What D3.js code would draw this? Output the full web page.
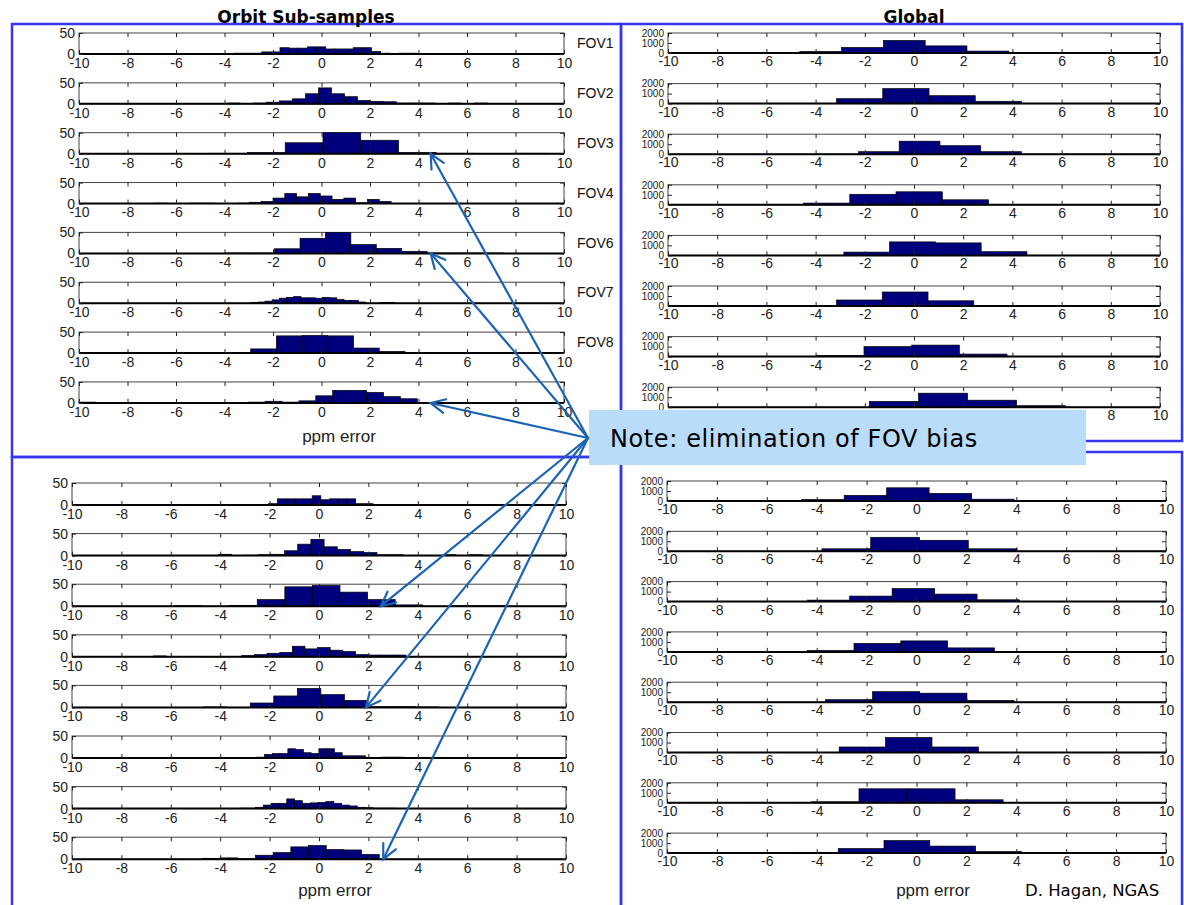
<!DOCTYPE html>
<html>
<head>
<meta charset="utf-8">
<script src="https://cdn.jsdelivr.net/npm/d3@7"></script>
<style>
    body { margin: 0; background: #fff; }
    svg { display: block; }
</style>
</head>
<body>
<script>
// ---- data ----
const xTicks = [-10, -8, -6, -4, -2, 0, 2, 4, 6, 8, 10]
const orbitYTicks = [0, 50]
const globalYTicks = [0, 1000, 2000]
const fovLabels = ["FOV1", "FOV2", "FOV3", "FOV4", "FOV6", "FOV7", "FOV8"]

// each histogram: [min, max] of the data and equal-width bin counts
const orbitTopRange = [[-3.6, 3.95], [-3.87, 6.84], [-4.61, 9.4], [-6.87, 2.87], [-4.03, 7.5], [-2.92, 3.0], [-2.92, 3.44], [-10, 3.95]]
const orbitTopCounts = [
    [2, 2, 2, 5, 5, 15, 14, 14, 17, 17, 12, 12, 12, 15, 15, 6, 2, 0, 2, 2],
    [2, 0, 2, 4, 7, 12, 24, 38, 24, 17, 8, 6, 5, 2, 2, 2, 0, 2, 0, 2],
    [1, 3, 26, 55, 32, 3, 1, 0, 1],
    [1, 0, 0, 1, 1, 0, 0, 1, 3, 5, 13, 24, 16, 24, 18, 10, 13, 2, 10, 5],
    [1, 1, 11, 36, 52, 21, 12, 5, 1, 1, 1],
    [2, 3, 5, 8, 12, 14, 16, 13, 13, 12, 14, 13, 9, 7, 7, 3, 0, 0, 2, 2],
    [10, 41, 42, 41, 12, 4],
    [2, 0, 0, 0, 0, 0, 0, 0, 0, 1, 2, 4, 2, 5, 17, 30, 30, 25, 15, 10]
]

const orbitBottomRange = [[-3.45, 3.6], [-4.07, 6.62], [-5.85, 7.55], [-6.7, 3.52], [-4.69, 4.84], [-2.83, 3.45], [-3.21, 3.14], [-4.72, 2.44]]
const orbitBottomCounts = [
    [1, 1, 0, 1, 3, 14, 14, 14, 14, 21, 12, 14, 14, 14, 3, 3, 1, 1, 0, 1],
    [3, 0, 1, 2, 3, 11, 26, 37, 20, 14, 9, 7, 2, 2, 0, 0, 0, 2, 0, 2],
    [1, 0, 2, 15, 44, 47, 32, 15, 3, 0, 1, 1],
    [2, 0, 0, 0, 1, 1, 0, 3, 5, 8, 10, 24, 18, 21, 15, 12, 5, 4, 4, 4],
    [1, 0, 10, 26, 43, 29, 16, 2, 2, 1],
    [1, 2, 8, 10, 10, 21, 19, 12, 10, 21, 21, 12, 5, 5, 5, 0, 0, 2, 2, 2],
    [1, 1, 3, 8, 12, 12, 22, 18, 12, 13, 14, 16, 12, 8, 6, 3, 2, 1, 1, 1],
    [2, 3, 1, 9, 15, 28, 31, 22, 21, 11]
]

const globalTopRange = [[-4.64, 3.85], [-3.15, 4.37], [-2.26, 4.37], [-4.49, 3.03], [-2.85, 4.59], [-3.15, 2.43], [-3.97, 3.78], [-1.81, 6.16]]
const globalTopCounts = [
    [160, 550, 1250, 710, 190],
    [490, 1500, 790, 230],
    [250, 1300, 850, 250],
    [170, 1050, 1300, 500],
    [330, 1350, 1250, 370],
    [600, 1400, 520],
    [120, 1000, 1150, 250],
    [580, 1400, 700, 150]
]

const globalBottomRange = [[-4.6, 3.91], [-3.79, 4.03], [-4.38, 4.13], [-4.38, 3.12], [-3.65, 3.91], [-3.1, 2.48], [-4.23, 3.47], [-4.97, 4.2]]
const globalBottomCounts = [
    [150, 560, 1320, 760, 180],
    [250, 1400, 1100, 250],
    [150, 550, 1300, 750, 180],
    [150, 850, 1100, 400],
    [250, 1050, 900, 180],
    [550, 1500, 550],
    [100, 1400, 1400, 300],
    [80, 450, 1250, 700, 150]
]

// arrow targets in ppm / row of the orbit panels
const arrowTargets = [
    {panel: 0, row: 2, x: 4.5}, {panel: 0, row: 4, x: 4.5}, {panel: 0, row: 7, x: 4.5},
    {panel: 1, row: 2, x: 2.5}, {panel: 1, row: 4, x: 1.9}, {panel: 1, row: 7, x: 2.6}
]

// ---- layout ----
const BLUE = "#3535f2",
    ARROW = "#1c63b2",
    BAR = "#00007c",
    TICK_FONT = "'Liberation Sans', Arial, sans-serif",
    SLIDE_FONT = "'DejaVu Sans', Verdana, sans-serif"

const svg = d3.select("body").append("svg")
    .attr("width", 1184)
    .attr("height", 905)

const panels = [
    {range: orbitTopRange, counts: orbitTopCounts, yTicks: orbitYTicks, x0: 79, x1: 564, bottom: 54, step: 49.85, h: 21, pad: 4, yFont: 14, xlabel: [339, 442]},
    {range: orbitBottomRange, counts: orbitBottomCounts, yTicks: orbitYTicks, x0: 72, x1: 566, bottom: 505, step: 50.6, h: 22, pad: 4, yFont: 14, xlabel: [335, 896]},
    {range: globalTopRange, counts: globalTopCounts, yTicks: globalYTicks, x0: 668, x1: 1160, bottom: 53, step: 50.6, h: 20, pad: 3, yFont: 10},
    {range: globalBottomRange, counts: globalBottomCounts, yTicks: globalYTicks, x0: 667, x1: 1166, bottom: 501, step: 50.3, h: 20, pad: 3, yFont: 10, xlabel: [933, 896]}
]

// panel frames
const frames = [
    [12, 24, 609, 433], [621, 24, 561, 417], [12, 457, 609, 460], [621, 452, 561, 460]
]
svg.selectAll("rect.frame")
    .data(frames)
    .join("rect")
    .attr("class", "frame")
    .attr("x", d => d[0]).attr("y", d => d[1])
    .attr("width", d => d[2]).attr("height", d => d[3])
    .style("fill", "none")
    .style("stroke", BLUE)
    .style("stroke-width", 2.5)

svg.append("text")
    .text("Orbit Sub-samples")
    .attr("x", 306).attr("y", 23)
    .attr("text-anchor", "middle")
    .style("font-family", SLIDE_FONT)
    .style("font-weight", "bold")
    .style("font-size", "17px")

svg.append("text")
    .text("Global")
    .attr("x", 914).attr("y", 23)
    .attr("text-anchor", "middle")
    .style("font-family", SLIDE_FONT)
    .style("font-weight", "bold")
    .style("font-size", "17px")

function styleAxis(g, size, family) {
    g.attr("color", "#222")
        .attr("font-size", size)
        .attr("font-family", family || TICK_FONT)
    g.select(".domain").remove()
}

function drawHist(p, i) {
    const bottom = p.bottom + i * p.step,
        top = bottom - p.h,
        yMax = p.yTicks[p.yTicks.length - 1],
        x = d3.scaleLinear().domain([-10, 10]).range([p.x0, p.x1]),
        y = d3.scaleLinear().domain([0, yMax]).range([bottom, top]),
        [lo, hi] = p.range[i],
        counts = p.counts[i],
        w = (hi - lo) / counts.length,
        bins = counts.map((c, k) => ({x0: lo + k * w, x1: lo + (k + 1) * w, c: Math.min(c, yMax)})),
        g = svg.append("g")

    g.append("rect")
        .attr("x", p.x0).attr("y", top)
        .attr("width", p.x1 - p.x0).attr("height", p.h)
        .style("fill", "#fff")
        .style("stroke", "#444")
        .style("stroke-width", 1)

    g.selectAll("rect.bar")
        .data(bins.filter(b => b.c > 0))
        .join("rect")
        .attr("class", "bar")
        .attr("x", d => x(d.x0))
        .attr("width", d => x(d.x1) - x(d.x0))
        .attr("y", d => y(d.c))
        .attr("height", d => y(0) - y(d.c))
        .style("fill", BAR)
        .style("stroke", "#000")
        .style("stroke-width", 0.7)

    // baseline drawn by the zero-height bins
    g.append("line")
        .attr("x1", p.x0).attr("x2", p.x1)
        .attr("y1", bottom).attr("y2", bottom)
        .style("stroke", "#000")
        .style("stroke-width", 2)

    g.append("g")
        .attr("transform", `translate(0, ${bottom})`)
        .call(d3.axisBottom(x).tickValues(xTicks).tickFormat(d => String(d))
            .tickSizeInner(-4).tickSizeOuter(0).tickPadding(p.pad))
        .call(styleAxis, 14)

    g.append("g")
        .attr("transform", `translate(0, ${top})`)
        .call(d3.axisTop(x).tickValues(xTicks).tickFormat("")
            .tickSizeInner(-4).tickSizeOuter(0))
        .call(styleAxis, 14)

    g.append("g")
        .attr("transform", `translate(${p.x0}, 0)`)
        .call(d3.axisLeft(y).tickValues(p.yTicks).tickFormat(d => String(d))
            .tickSizeInner(-4).tickSizeOuter(0).tickPadding(4))
        .call(styleAxis, p.yFont, "'Liberation Sans Narrow', 'Liberation Sans', Arial, sans-serif")

    g.append("g")
        .attr("transform", `translate(${p.x1}, 0)`)
        .call(d3.axisRight(y).tickValues(p.yTicks).tickFormat("")
            .tickSizeInner(-4).tickSizeOuter(0))
        .call(styleAxis, p.yFont)

    return {x, y, top, bottom}
}

const geometry = panels.map(p => d3.range(8).map(i => drawHist(p, i)))

// FOV names beside the top orbit panel
svg.selectAll("text.fov")
    .data(fovLabels)
    .join("text")
    .attr("class", "fov")
    .text(d => d)
    .attr("x", 577)
    .attr("y", (d, i) => (geometry[0][i].top + geometry[0][i].bottom) / 2 + 1)
    .attr("dominant-baseline", "middle")
    .style("font-family", TICK_FONT)
    .style("font-size", "14px")
    .style("fill", "#111")

panels.forEach(p => {
    if (!p.xlabel) return
    svg.append("text")
        .text("ppm error")
        .attr("x", p.xlabel[0]).attr("y", p.xlabel[1])
        .attr("text-anchor", "middle")
        .style("font-family", TICK_FONT)
        .style("font-size", "17px")
        .style("fill", "#222")
})

svg.append("text")
    .text("D. Hagan, NGAS")
    .attr("x", 1025).attr("y", 896)
    .style("font-family", SLIDE_FONT)
    .style("font-size", "16.5px")
    .style("fill", "#000")

// note box
svg.append("rect")
    .attr("x", 589).attr("y", 410)
    .attr("width", 497).attr("height", 55)
    .style("fill", "#b9dcfb")

svg.append("text")
    .text("Note: elimination of FOV bias")
    .attr("x", 610).attr("y", 447)
    .style("font-family", SLIDE_FONT)
    .style("font-size", "24px")
    .style("letter-spacing", "0.6px")
    .style("fill", "#000")

// arrows
const origin = [588, 438]
arrowTargets.forEach(t => {
    const gm = geometry[t.panel][t.row],
        tx = gm.x(t.x),
        ty = gm.bottom,
        ang = Math.atan2(ty - origin[1], tx - origin[0]),
        len = 16,
        spread = 0.45,
        g = svg.append("g")
            .style("stroke", ARROW)
            .style("stroke-width", 2.2)
            .style("fill", "none")
            .style("stroke-linecap", "round")

    g.append("line")
        .attr("x1", origin[0]).attr("y1", origin[1])
        .attr("x2", tx).attr("y2", ty)

    g.append("path")
        .attr("d", d3.line()([
            [tx - len * Math.cos(ang - spread), ty - len * Math.sin(ang - spread)],
            [tx, ty],
            [tx - len * Math.cos(ang + spread), ty - len * Math.sin(ang + spread)]
        ]))
})
</script>
</body>
</html>
